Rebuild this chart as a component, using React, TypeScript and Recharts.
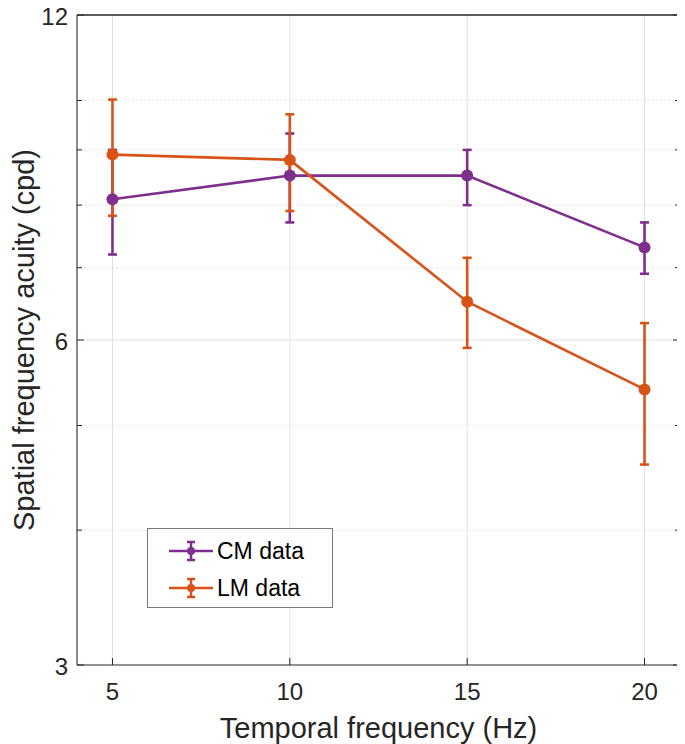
import React from "react";
import {
  ComposedChart,
  Line,
  XAxis,
  YAxis,
  CartesianGrid,
  ErrorBar,
  ReferenceLine,
  Legend,
} from "recharts";

// temporal frequency (Hz)
const freqs = [5, 10, 15, 20];

// CM data: mean and error bar ends (cpd)
const cmMean = [8.1, 8.52, 8.52, 7.31];
const cmLow = [7.2, 7.71, 8.0, 6.91];
const cmHigh = [9.0, 9.32, 9.0, 7.71];

// LM data
const lmMean = [8.91, 8.81, 6.51, 5.4];
const lmLow = [7.82, 7.9, 5.9, 4.6];
const lmHigh = [10.02, 9.71, 7.15, 6.22];

const xTicks = [5, 10, 15, 20];
const yMajor = [3, 6, 12];
const yMinor = [4, 5, 7, 8, 9, 10];
const yTicks = [3, 4, 5, 6, 7, 8, 9, 10, 12];

const CM = "#7E2F8E";
const LM = "#D95319";
const INK = "#262626";
const FONT = "'Liberation Sans', Arial, Helvetica, sans-serif";

const data = freqs.map((f, i) => ({
  f,
  cm: cmMean[i],
  cmErr: [cmMean[i] - cmLow[i], cmHigh[i] - cmMean[i]],
  lm: lmMean[i],
  lmErr: [lmMean[i] - lmLow[i], lmHigh[i] - lmMean[i]],
}));

const BottomTick = (p: any) => (
  <g>
    <line x1={p.x} y1={p.y} x2={p.x} y2={p.y - 7} stroke={INK} />
    <text x={p.x} y={p.y + 35} textAnchor="middle" fontSize={24} fill={INK} fontFamily={FONT}>
      {p.payload.value}
    </text>
  </g>
);

const TopTick = (p: any) => <line x1={p.x} y1={p.y} x2={p.x} y2={p.y + 7} stroke={INK} />;

const LeftTick = (p: any) => {
  const major = yMajor.includes(p.payload.value);
  return (
    <g>
      <line x1={p.x} y1={p.y} x2={p.x + (major ? 7 : 5)} y2={p.y} stroke={INK} />
      {major && (
        <text x={p.x - 9} y={p.y + 10} textAnchor="end" fontSize={24} fill={INK} fontFamily={FONT}>
          {p.payload.value}
        </text>
      )}
    </g>
  );
};

const RightTick = (p: any) => {
  const major = yMajor.includes(p.payload.value);
  return <line x1={p.x} y1={p.y} x2={p.x - (major ? 7 : 5)} y2={p.y} stroke={INK} />;
};

const LegendIcon = ({ color }: { color: string }) => (
  <svg width={46} height={22} style={{ position: "absolute", left: 20, top: -11 }}>
    <line x1={1} y1={11} x2={45} y2={11} stroke={color} strokeWidth={2.5} />
    <line x1={23} y1={2} x2={23} y2={20} stroke={color} strokeWidth={2.5} />
    <line x1={19} y1={2} x2={27} y2={2} stroke={color} strokeWidth={2.5} />
    <line x1={19} y1={20} x2={27} y2={20} stroke={color} strokeWidth={2.5} />
    <circle cx={23} cy={11} r={4} fill={color} />
  </svg>
);

const LegendBox = () => (
  <div
    style={{
      position: "relative",
      width: 186,
      height: 80,
      boxSizing: "border-box",
      border: "1px solid #7a7a7a",
      background: "#fff",
      fontFamily: FONT,
      fontSize: 23,
      color: "#000",
    }}
  >
    {[
      { name: "CM data", color: CM, top: 22 },
      { name: "LM data", color: LM, top: 59 },
    ].map((r) => (
      <div key={r.name} style={{ position: "absolute", left: 0, top: r.top }}>
        <LegendIcon color={r.color} />
        <span style={{ position: "absolute", left: 69, top: -14, whiteSpace: "nowrap", lineHeight: "28px" }}>
          {r.name}
        </span>
      </div>
    ))}
  </div>
);

export default function App() {
  return (
    <div style={{ marginTop: -8, marginLeft: -8, width: 685, height: 744 }}>
      <ComposedChart
        width={685}
        height={744}
        data={data}
        margin={{ top: 14, right: 4, bottom: 0, left: 8 }}
        style={{ fontFamily: FONT }}
      >
        <CartesianGrid horizontal={false} stroke="#e2e2e2" />
        {yMinor.map((v) => (
          <ReferenceLine key={v} y={v} stroke="#cfcfcf" strokeDasharray="1 3" />
        ))}
        <ReferenceLine y={6} stroke="#e2e2e2" />
        <ReferenceLine y={12} stroke={INK} />
        <XAxis
          dataKey="f"
          type="number"
          domain={[4, 21]}
          ticks={xTicks}
          interval={0}
          allowDataOverflow
          height={79}
          tickSize={0}
          tickMargin={0}
          tickLine={false}
          stroke={INK}
          tick={(p: any) => <BottomTick {...p} />}
          label={{
            value: "Temporal frequency (Hz)",
            position: "insideBottom",
            offset: 6,
            fontSize: 29,
            fill: INK,
            fontFamily: FONT,
          }}
        />
        <XAxis
          xAxisId="top"
          type="number"
          orientation="top"
          domain={[4, 21]}
          ticks={xTicks}
          interval={0}
          allowDataOverflow
          height={1}
          tickSize={0}
          tickMargin={0}
          tickLine={false}
          stroke={INK}
          tick={(p: any) => <TopTick {...p} />}
        />
        <YAxis
          type="number"
          scale="log"
          domain={[3, 12]}
          ticks={yTicks}
          interval={0}
          allowDataOverflow
          width={69}
          tickSize={0}
          tickMargin={0}
          tickLine={false}
          stroke={INK}
          tick={(p: any) => <LeftTick {...p} />}
          label={{
            value: "Spatial frequency acuity (cpd)",
            angle: -90,
            position: "center",
            dx: -19,
            fontSize: 29,
            fill: INK,
            fontFamily: FONT,
          }}
        />
        <YAxis
          yAxisId="right"
          type="number"
          scale="log"
          orientation="right"
          domain={[3, 12]}
          ticks={yTicks}
          interval={0}
          allowDataOverflow
          width={1}
          tickSize={0}
          tickMargin={0}
          tickLine={false}
          stroke={INK}
          tick={(p: any) => <RightTick {...p} />}
        />
        <Legend
          layout="vertical"
          align="center"
          verticalAlign="middle"
          wrapperStyle={{ left: 147, top: 528, width: 186, height: 80 }}
          content={() => <LegendBox />}
        />
        <Line
          dataKey="cm"
          name="CM data"
          stroke={CM}
          strokeWidth={2.6}
          dot={{ r: 6, fill: CM, stroke: CM, strokeWidth: 0 }}
          activeDot={false}
          isAnimationActive={false}
        >
          <ErrorBar dataKey="cmErr" direction="y" width={4.5} stroke={CM} strokeWidth={2.6} isAnimationActive={false} />
        </Line>
        <Line
          dataKey="lm"
          name="LM data"
          stroke={LM}
          strokeWidth={2.6}
          dot={{ r: 6, fill: LM, stroke: LM, strokeWidth: 0 }}
          activeDot={false}
          isAnimationActive={false}
        >
          <ErrorBar dataKey="lmErr" direction="y" width={4.5} stroke={LM} strokeWidth={2.6} isAnimationActive={false} />
        </Line>
      </ComposedChart>
    </div>
  );
}
